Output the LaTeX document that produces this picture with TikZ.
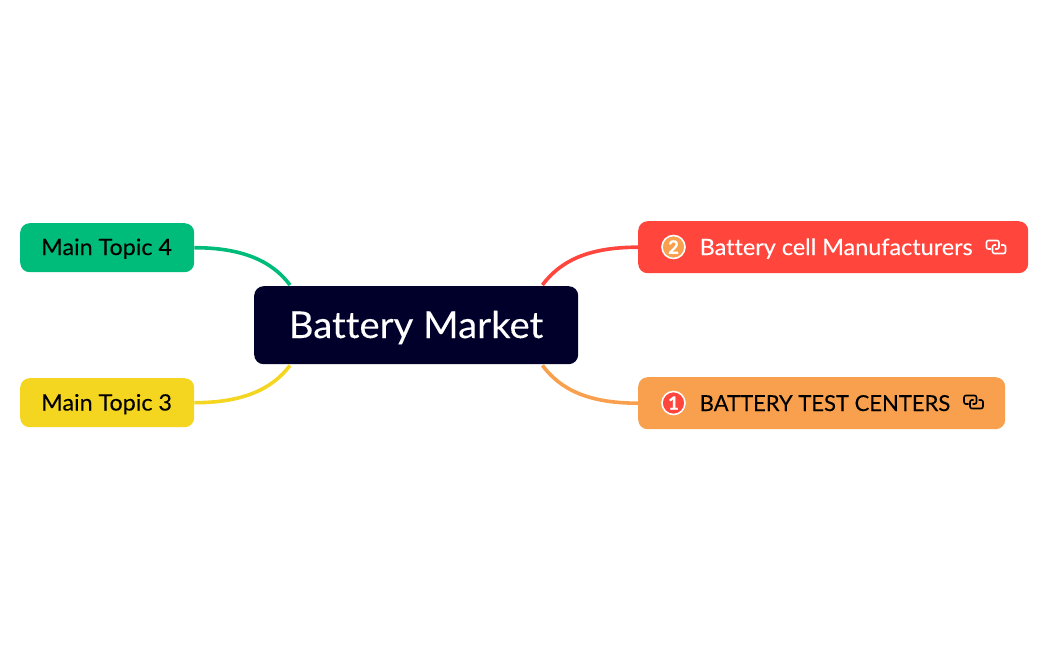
\documentclass[tikz,border=0pt]{standalone}
\usepackage{fontspec}
\setmainfont[Ligatures=NoCommon]{Lato}
\definecolor{navy}{HTML}{00002A}
\definecolor{grn}{HTML}{00BC7B}
\definecolor{yel}{HTML}{F4D520}
\definecolor{rd}{HTML}{FF453C}
\definecolor{org}{HTML}{F8A04E}
\newcommand{\lblfont}[2]{\fontsize{#1}{26}\selectfont\addfontfeature{FakeStretch=#2,FakeBold=0.15}}
\tikzset{
  x=1pt,y=-1pt,
  topic/.style={anchor=north west,inner sep=0pt,rounded corners=9.5pt},
  lbl/.style={inner sep=0pt,anchor=base west},
  badge/.style={circle,draw=white,line width=1.6pt,minimum size=23pt,inner sep=0pt,text=white,font=\fontsize{18.5}{18}\selectfont\bfseries\addfontfeature{FakeBold=0.6}},
  link/.style={line width=3.6pt},
  icon/.style={line width=1.6pt,rounded corners=2pt}
}
\newcommand{\linkicon}[2]{%
  \draw[icon,#2] (#1) ++(-5,2) -- ++(-4.5,0) -- ++(0,-8.5) -- ++(12.5,0) -- ++(0,8.5) -- ++(-4,0);
  \draw[icon,#2] (#1) ++(0,-2) -- ++(-3.5,0) -- ++(0,8.5) -- ++(13,0) -- ++(0,-8.5) -- ++(-4.5,0);
}
\begin{document}
\begin{tikzpicture}
\useasboundingbox (0,0) rectangle (1048,650);
\node[topic,fill=grn,minimum width=174pt,minimum height=49pt] (t4) at (20,223) {};
\node[topic,fill=yel,minimum width=174pt,minimum height=49pt] (t3) at (20,378) {};
\node[topic,fill=rd,minimum width=390pt,minimum height=52pt] (t2) at (638,221) {};
\node[topic,fill=org,minimum width=367pt,minimum height=52pt] (t1) at (638,377) {};
\node[topic,fill=navy,minimum width=324pt,minimum height=78pt] (main) at (254,286) {};
\coordinate (mnw) at ([xshift=36pt,yshift=1pt]main.north west);
\coordinate (mne) at ([xshift=-36pt,yshift=1pt]main.north east);
\coordinate (msw) at ([xshift=36pt,yshift=-1pt]main.south west);
\coordinate (mse) at ([xshift=-36pt,yshift=-1pt]main.south east);
\draw[link,grn] (t4.east) .. controls +(48,0) and +(-18,-24) .. (mnw);
\draw[link,yel] (t3.east) .. controls +(48,0) and +(-18,24) .. (msw);
\draw[link,rd] (t2.west) .. controls +(-50,0) and +(18,-24) .. (mne);
\draw[link,org] (t1.west) .. controls +(-50,0) and +(18,24) .. (mse);
\node[inner sep=0pt,anchor=base,text=white,font=\lblfont{37}{1.035}] (mt) at (416,338) {Battery Market};
\node[lbl,text=black,font=\lblfont{22.5}{1.035}] (l4) at (41,255) {Main Topic 4};
\node[lbl,text=black,font=\lblfont{22.5}{1.035}] (l3) at (41,410.5) {Main Topic 3};
\node[lbl,text=white,font=\lblfont{22.5}{1.04}] (l2) at (699.5,255) {Battery cell Manufacturers};
\node[lbl,text=black,font=\lblfont{22}{1.0}] (l1) at (699.5,411) {BATTERY TEST CENTERS};
\node[badge,fill=org] (b2) at (673.5,247) {2};
\node[badge,fill=rd] (b1) at (673.5,403) {1};
\coordinate (i2) at (996,247);
\coordinate (i1) at (973.5,402);
\linkicon{i2}{white}
\linkicon{i1}{black}
\end{tikzpicture}
\end{document}
